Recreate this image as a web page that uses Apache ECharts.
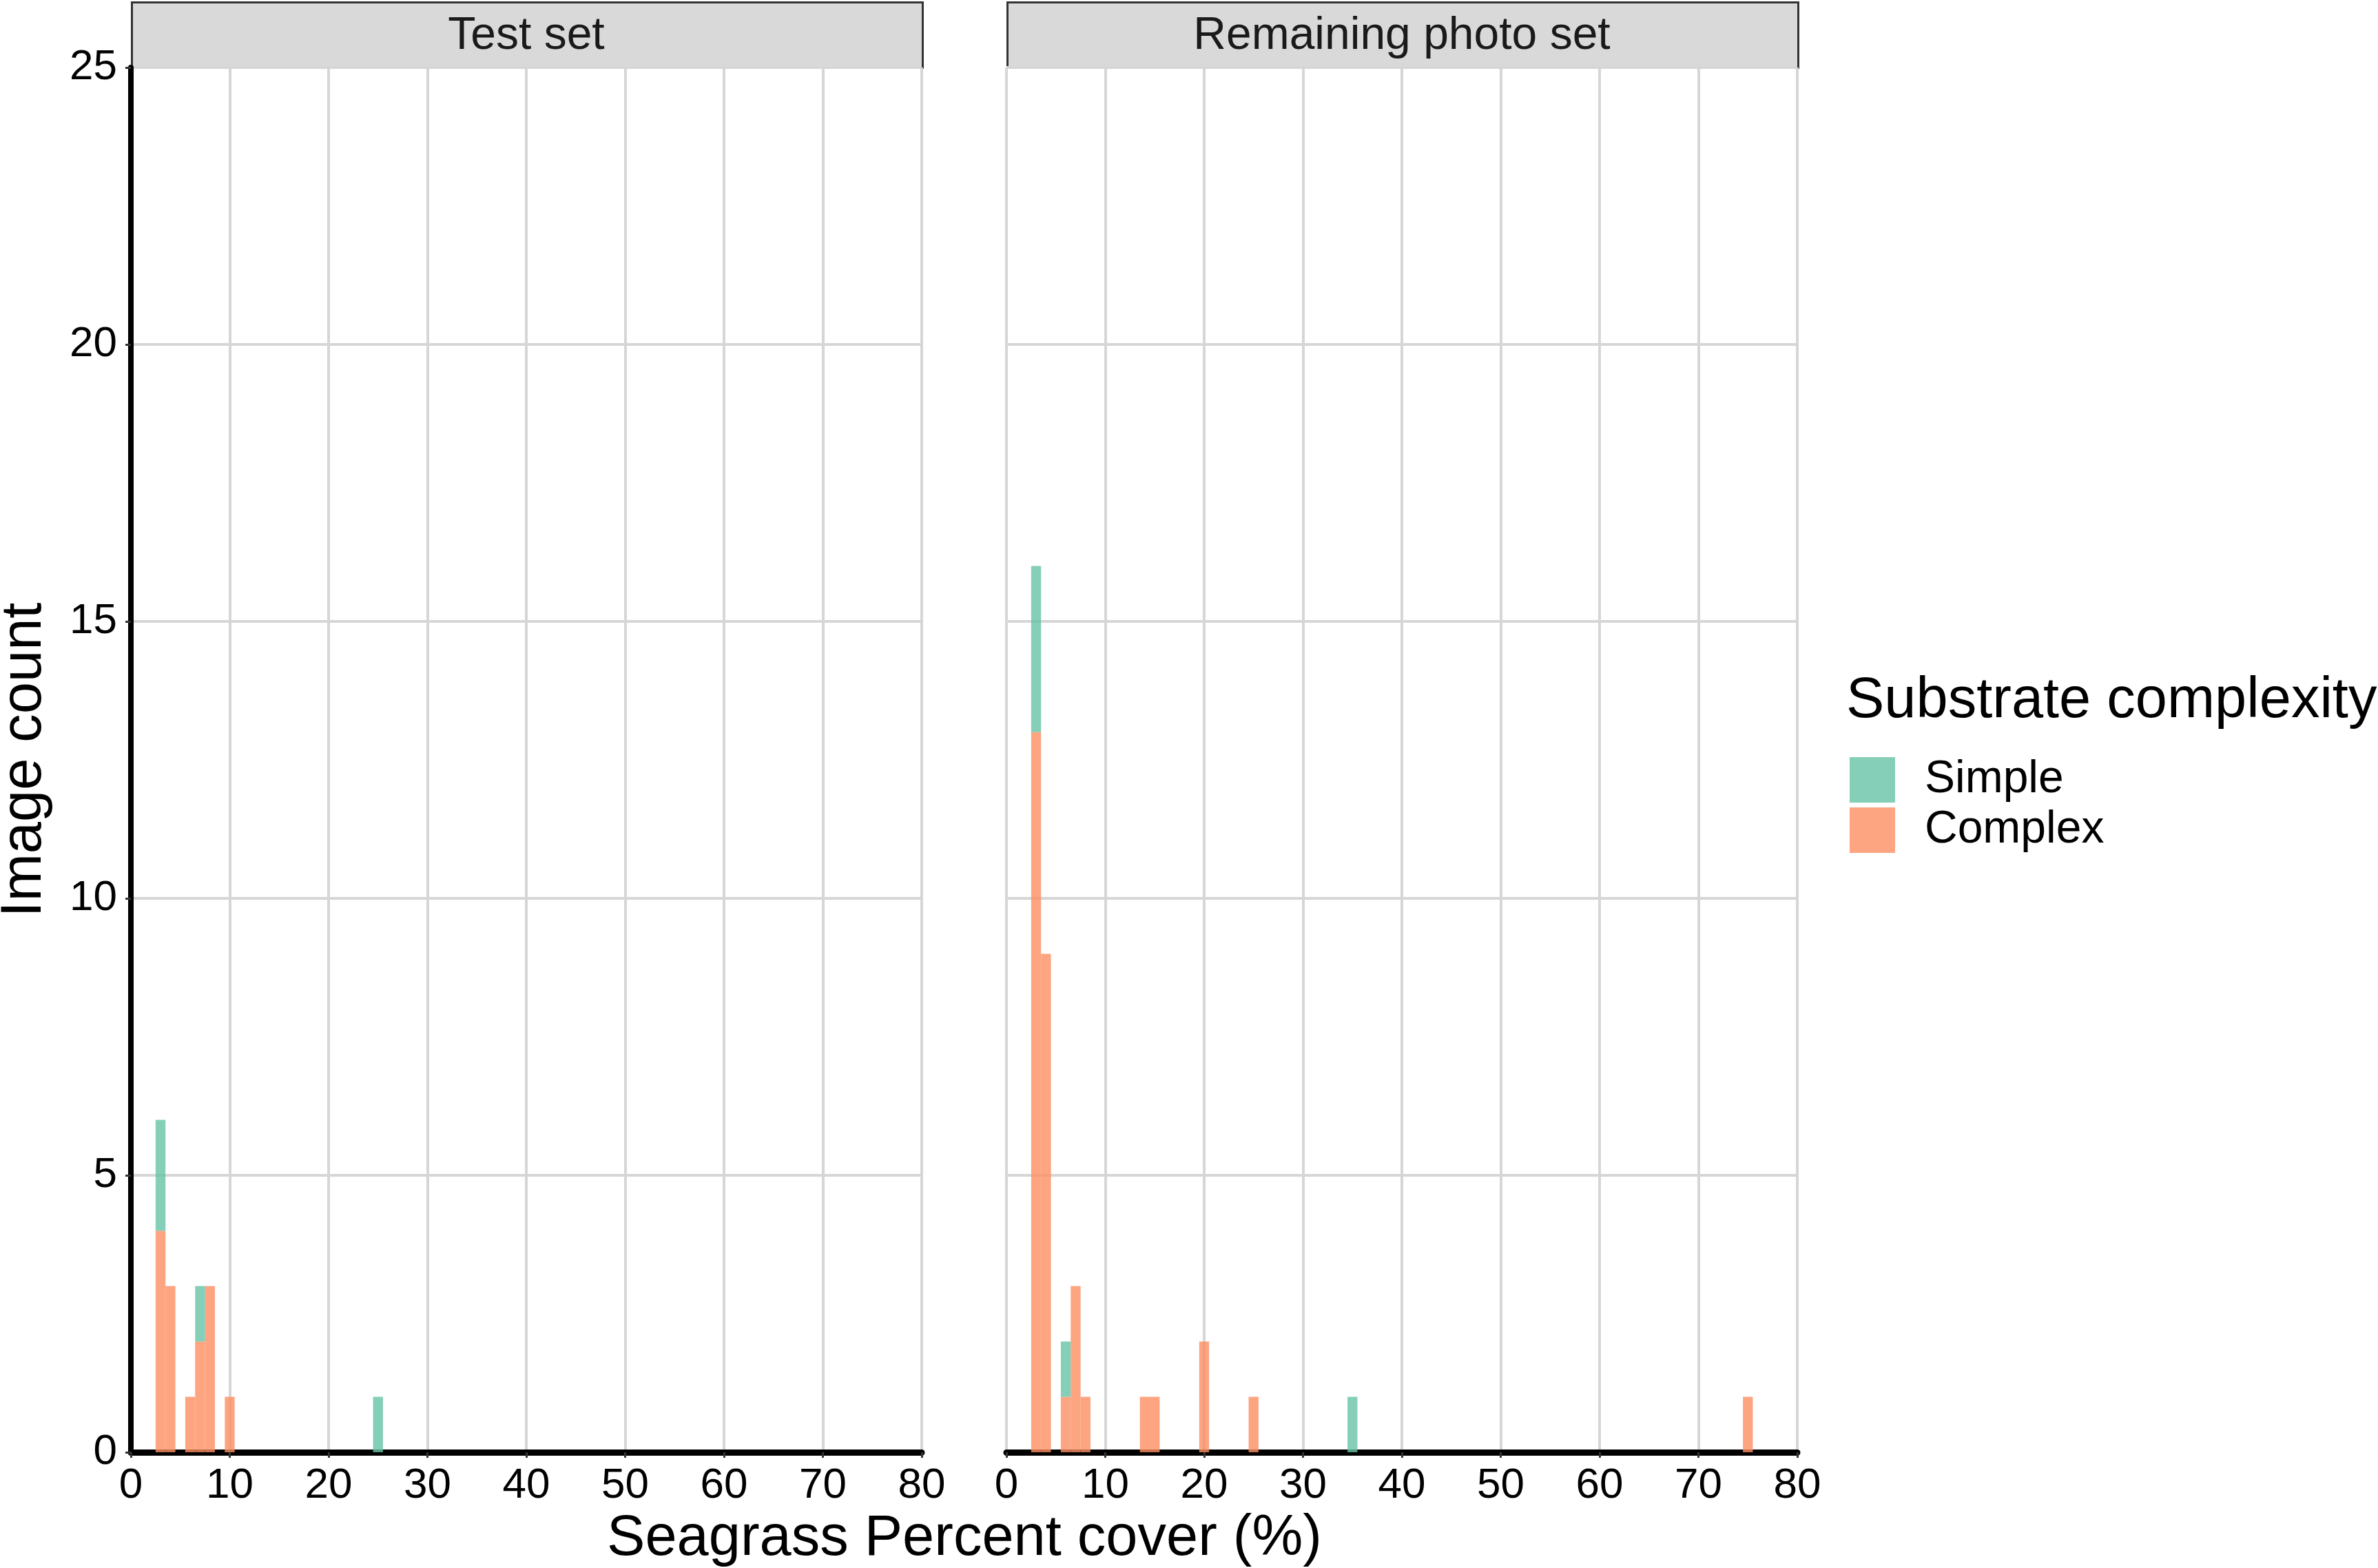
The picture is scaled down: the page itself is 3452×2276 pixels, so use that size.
<!DOCTYPE html>
<html>
<head>
    <meta charset="utf-8">
    <title>Seagrass cover histogram</title>
    <script src="https://cdn.jsdelivr.net/npm/echarts@6/dist/echarts.min.js"></script>
    <style>
        html, body { margin: 0; padding: 0; background: #fff; }
        #chart { width: 3452px; height: 2276px; }
    </style>
</head>
<body>
    <div id="chart"></div>
    <script type="text/javascript">
        // ---- data (1% bins, counts) ----
        var panelNames = ['Test set', 'Remaining photo set'];
        var groupNames = ['Simple', 'Complex'];

        var testBins = [3, 4, 6, 7, 8, 10, 25];
        var testSimple = [2, 0, 0, 1, 0, 0, 1];
        var testComplex = [4, 3, 1, 2, 3, 1, 0];

        var remainBins = [3, 4, 6, 7, 8, 14, 15, 20, 25, 35, 75];
        var remainSimple = [3, 0, 1, 0, 0, 0, 0, 0, 0, 1, 0];
        var remainComplex = [13, 9, 1, 3, 1, 1, 1, 2, 1, 0, 1];

        var xTicks = [0, 10, 20, 30, 40, 50, 60, 70, 80];
        var yTicks = [0, 5, 10, 15, 20, 25];

        // ---- look ----
        var FONT = '"Liberation Sans", Arial, sans-serif';
        var colSimple = 'rgba(102, 194, 165, 0.8)';
        var colComplex = 'rgba(252, 141, 98, 0.8)';
        var panelTop = 98, panelH = 2010, panelW = 1148;
        var panelLeft = [190, 1461];

        // complex sits at the bottom, simple stacked on top of it
        function stackRows(bins, simple, complex) {
            return {
                complex: bins.map(function (b, i) { return [b, 0, complex[i]]; }),
                simple: bins.map(function (b, i) { return [b, complex[i], simple[i]]; })
            };
        }
        var stacks = [
            stackRows(testBins, testSimple, testComplex),
            stackRows(remainBins, remainSimple, remainComplex)
        ];

        function renderBar(params, api) {
            var x = api.value(0), base = api.value(1), n = api.value(2);
            if (!n) return;
            var p0 = api.coord([x - 0.5, base]);
            var p1 = api.coord([x + 0.5, base + n]);
            return {
                type: 'rect',
                shape: { x: p0[0], y: p1[1], width: p1[0] - p0[0], height: p0[1] - p1[1] },
                style: { fill: api.visual('color') }
            };
        }

        var grids = [], xAxes = [], yAxes = [], series = [], graphics = [];
        panelLeft.forEach(function (left, k) {
            grids.push({ left: left, top: panelTop, width: panelW, height: panelH });
            xAxes.push({
                type: 'value', gridIndex: k,
                min: xTicks[0], max: xTicks[xTicks.length - 1], interval: 10,
                axisLine: { show: true, onZero: false, lineStyle: { color: '#000', width: 9 } },
                axisTick: { show: true, length: 8, lineStyle: { color: '#333', width: 3 } },
                axisLabel: { color: '#000', fontSize: 62, fontFamily: FONT, margin: 18 },
                splitLine: { show: true, lineStyle: { color: '#d6d6d6', width: 4 } }
            });
            yAxes.push({
                type: 'value', gridIndex: k,
                min: yTicks[0], max: yTicks[yTicks.length - 1], interval: 5,
                axisLine: { show: k === 0, lineStyle: { color: '#000', width: 8 } },
                axisTick: { show: k === 0, length: 8, lineStyle: { color: '#333', width: 3 } },
                axisLabel: { show: k === 0, color: '#000', fontSize: 62, fontFamily: FONT, margin: 20 },
                splitLine: { show: true, lineStyle: { color: '#d6d6d6', width: 4 } }
            });
            series.push({
                name: 'Complex', type: 'custom', xAxisIndex: k, yAxisIndex: k,
                renderItem: renderBar, itemStyle: { color: colComplex },
                encode: { x: 0, y: 2 }, data: stacks[k].complex
            });
            series.push({
                name: 'Simple', type: 'custom', xAxisIndex: k, yAxisIndex: k,
                renderItem: renderBar, itemStyle: { color: colSimple },
                encode: { x: 0, y: 2 }, data: stacks[k].simple
            });
            // facet strip
            graphics.push({
                type: 'rect', left: left, top: 2,
                shape: { width: panelW, height: 95 },
                style: { fill: '#d9d9d9', stroke: '#333', lineWidth: 3 }
            });
            graphics.push({
                type: 'text', x: left + panelW / 2, y: 53,
                style: { text: panelNames[k], font: '66px ' + FONT, fill: '#1a1a1a',
                         align: 'center', verticalAlign: 'middle' }
            });
        });

        graphics.push({
            type: 'text', x: 1400, y: 2234,
            style: { text: 'Seagrass Percent cover (%)', font: '83px ' + FONT, fill: '#000',
                     align: 'center', verticalAlign: 'middle' }
        });
        graphics.push({
            type: 'text', x: 36, y: 1103, rotation: Math.PI / 2,
            style: { text: 'Image count', font: '83px ' + FONT, fill: '#000',
                     align: 'center', verticalAlign: 'middle' }
        });
        graphics.push({
            type: 'text', x: 2680, y: 1018,
            style: { text: 'Substrate complexity', font: '83px ' + FONT, fill: '#000',
                     align: 'left', verticalAlign: 'middle' }
        });

        var chart = echarts.init(document.getElementById('chart'), null, { renderer: 'canvas' });
        chart.setOption({
            backgroundColor: '#fff',
            animation: false,
            grid: grids,
            xAxis: xAxes,
            yAxis: yAxes,
            legend: {
                data: groupNames,
                orient: 'vertical',
                left: 2680, top: 1094,
                icon: 'rect',
                itemWidth: 66, itemHeight: 66, itemGap: 7,
                textStyle: { fontSize: 66, fontFamily: FONT, color: '#000', padding: [0, 0, 0, 38] }
            },
            graphic: graphics,
            series: series
        });
    </script>
</body>
</html>
